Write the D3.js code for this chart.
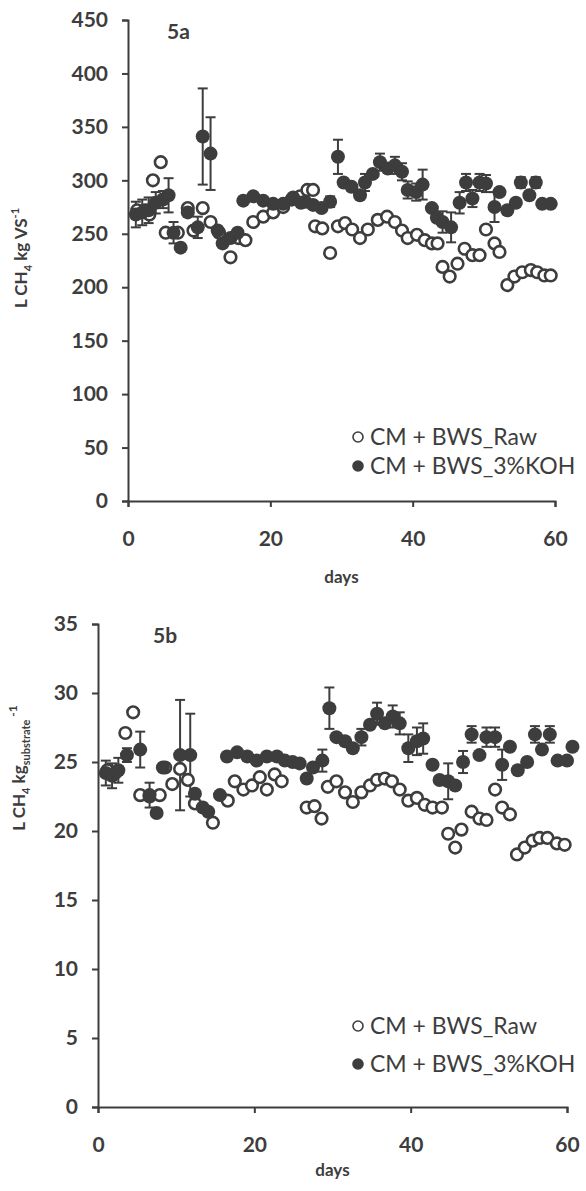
<!doctype html>
<html>
<head>
<meta charset="UTF-8">
<title>Methane yield</title>
<script src="https://d3js.org/d3.v7.min.js"></script>
<style>
  body { margin: 0; background: #fff; }
  svg text { font-family: Lato, "Open Sans", sans-serif; fill: #3d3d3d; }
</style>
</head>
<body>
<svg id="chart" width="586" height="1191"></svg>
<script>
// ---- data: 5a (L CH4 / kg VS) ----
const rawDaysA = [1.3, 2.4, 3.0, 3.5, 4.6, 5.3, 7.0, 8.4, 9.2, 10.5, 11.6, 12.8, 14.4, 15.5, 16.5, 17.6, 19.0, 20.4, 21.8, 23.0, 24.2, 25.2, 26.0, 26.3, 27.3, 28.4, 29.5, 30.5, 31.5, 32.6, 33.7, 35.1, 36.4, 37.5, 38.5, 39.3, 40.6, 41.7, 42.7, 43.5, 44.2, 45.2, 46.3, 47.3, 48.4, 49.4, 50.3, 51.5, 52.2, 53.3, 54.3, 55.4, 56.6, 57.5, 58.5, 59.4];
const rawValsA = [272, 272, 268, 300, 317, 251, 251, 274, 253, 274, 261, 251, 228, 246, 244, 261, 266, 270, 275, 282, 285, 291, 291, 257, 255, 232, 257, 260, 254, 246, 254, 263, 266, 261, 253, 246, 249, 244, 241, 241, 219, 210, 222, 236, 230, 230, 254, 241, 233, 202, 210, 214, 216, 214, 211, 211];
const kohDaysA = [1.1, 2.0, 2.9, 3.9, 4.9, 5.7, 6.4, 7.4, 8.4, 9.8, 10.5, 11.6, 12.6, 13.3, 14.4, 15.4, 16.2, 17.6, 19.0, 20.4, 21.8, 23.2, 24.3, 24.9, 26.0, 27.2, 28.4, 29.5, 30.3, 31.4, 32.6, 33.3, 34.4, 35.4, 36.5, 37.5, 38.5, 39.3, 40.5, 41.4, 42.7, 43.4, 44.2, 45.4, 46.6, 47.5, 48.4, 49.4, 50.3, 51.5, 52.2, 53.3, 54.5, 55.2, 56.4, 57.3, 58.2, 59.4];
const kohValsA = [268, 270, 272, 279, 282, 286, 251, 237, 270, 256, 341, 325, 253, 241, 246, 251, 281, 285, 281, 278, 278, 284, 279, 280, 277, 274, 280, 322, 298, 294, 286, 298, 306, 317, 311, 314, 308, 291, 289, 296, 274, 265, 261, 256, 279, 298, 283, 298, 297, 275, 289, 272, 279, 298, 286, 298, 278, 278];
const kohErrA  = [12, 12, 12, 10, 8, 16, 10, 0, 0, 10, 45, 34, 0, 0, 0, 0, 0, 0, 0, 0, 0, 0, 0, 0, 0, 0, 5, 16, 0, 0, 0, 8, 0, 8, 0, 8, 8, 8, 8, 14, 0, 0, 10, 14, 10, 8, 8, 8, 8, 14, 0, 0, 0, 5, 0, 5, 0, 0];

// ---- data: 5b (L CH4 / kg substrate) ----
const rawDaysB = [1.2, 2.2, 3.5, 4.5, 5.4, 6.6, 7.9, 8.6, 9.5, 10.5, 11.5, 12.4, 14.7, 16.6, 17.5, 18.6, 19.7, 20.7, 21.6, 22.6, 23.5, 26.7, 27.7, 28.6, 29.4, 30.5, 31.6, 32.6, 33.7, 34.8, 35.7, 36.7, 37.6, 38.6, 39.7, 40.8, 41.8, 42.8, 44.0, 44.8, 45.7, 46.5, 47.8, 48.8, 49.7, 50.8, 51.7, 52.7, 53.6, 54.6, 55.6, 56.5, 57.5, 58.7, 59.7];
const rawValsB = [24.4, 24.2, 27.1, 28.6, 22.6, 22.5, 22.6, 24.6, 23.4, 24.5, 23.7, 22.0, 20.6, 22.2, 23.6, 23.0, 23.3, 23.9, 23.0, 24.1, 23.6, 21.7, 21.8, 20.9, 23.2, 23.6, 22.8, 22.1, 22.8, 23.3, 23.7, 23.8, 23.6, 23.0, 22.2, 22.4, 21.9, 21.7, 21.7, 19.8, 18.8, 20.1, 21.4, 20.9, 20.8, 23.0, 21.7, 21.2, 18.3, 18.8, 19.3, 19.5, 19.5, 19.1, 19.0];
const kohDaysB = [1.0, 1.8, 2.6, 3.7, 5.4, 6.6, 7.5, 8.3, 10.5, 11.8, 12.4, 13.4, 14.1, 15.6, 16.5, 17.8, 19.1, 20.3, 21.6, 22.9, 23.9, 24.9, 25.8, 26.7, 27.5, 28.7, 29.6, 30.5, 31.6, 32.6, 33.7, 34.8, 35.7, 36.7, 37.7, 38.6, 39.7, 40.8, 41.6, 42.8, 43.7, 44.8, 45.7, 46.7, 47.8, 48.8, 49.7, 50.8, 51.7, 52.7, 53.7, 54.9, 55.9, 56.8, 57.8, 58.8, 60.0, 60.7];
const kohValsB = [24.2, 24.0, 24.4, 25.5, 25.9, 22.6, 21.3, 24.6, 25.5, 25.5, 22.7, 21.7, 21.4, 22.6, 25.4, 25.7, 25.4, 25.1, 25.4, 25.4, 25.1, 25.0, 24.9, 23.8, 24.6, 25.1, 28.9, 26.8, 26.5, 26.0, 26.8, 27.7, 28.5, 27.8, 28.3, 27.8, 26.0, 26.5, 26.7, 24.8, 23.7, 23.6, 23.3, 25.0, 27.0, 25.5, 26.8, 26.8, 24.8, 26.1, 24.4, 25.0, 27.0, 25.9, 27.0, 25.1, 25.1, 26.1];
const kohErrB  = [0.9, 0.9, 0.9, 0.5, 1.3, 0.9, 0, 0, 4.0, 3.0, 0, 0, 0, 0, 0, 0, 0, 0, 0, 0, 0, 0, 0, 0, 0, 0.8, 1.5, 0, 0, 0, 0.6, 0, 0.8, 0, 0.8, 0.8, 1.0, 1.0, 1.1, 0, 0, 1.3, 0, 0.8, 0.6, 0, 0.7, 0.7, 1.1, 0, 0, 0, 0.6, 0, 0.6, 0, 0, 0];

// ---- axes ----
const xTicks = [0, 20, 40, 60];
const yTicksA = [0, 50, 100, 150, 200, 250, 300, 350, 400, 450];
const yTicksB = [0, 5, 10, 15, 20, 25, 30, 35];
const legendLabels = ["CM + BWS_Raw", "CM + BWS_3%KOH"];

const ink = "#3d3d3d";
const svg = d3.select("#chart");

function zip(days, vals, errs) {
  return days.map((d, i) => ({ day: d, v: vals[i], e: errs ? errs[i] : 0 }));
}

function panel(cfg) {
  const x = d3.scaleLinear().domain([0, 60]).range([cfg.x0, cfg.x1]);
  const y = d3.scaleLinear().domain(cfg.yDomain).range([cfg.y0, cfg.y1]);
  const g = svg.append("g");

  // axes
  const ax = g.append("g")
    .attr("transform", `translate(0,${cfg.y0})`)
    .call(d3.axisBottom(x).tickValues(xTicks).tickSize(6).tickPadding(24));
  const ay = g.append("g")
    .attr("transform", `translate(${cfg.x0},0)`)
    .call(d3.axisLeft(y).tickValues(cfg.yTicks).tickSize(6).tickPadding(14));
  [ax, ay].forEach(a => {
    a.select(".domain").attr("stroke", ink).attr("stroke-width", 2);
    a.selectAll(".tick line").attr("stroke", ink).attr("stroke-width", 2);
    a.selectAll(".tick text").attr("font-size", 21).attr("font-weight", "bold")
      .style("fill", ink);
  });

  // x title
  g.append("text").attr("x", (cfg.x0 + cfg.x1) / 2).attr("y", cfg.daysY)
    .attr("text-anchor", "middle").attr("font-size", 17).attr("font-weight", "bold")
    .text("days");

  // panel tag
  g.append("text").attr("x", cfg.tagX).attr("y", cfg.y1 + 19)
    .attr("font-size", 21).attr("font-weight", "bold").text(cfg.tag);

  // y title
  const yt = g.append("text")
    .attr("transform", `translate(${cfg.labelX},${cfg.labelY}) rotate(-90)`)
    .attr("text-anchor", "middle").attr("font-size", 17).attr("font-weight", "bold");
  yt.append("tspan").text("L CH");
  yt.append("tspan").attr("font-size", 11).attr("dy", 5).text("4");
  yt.append("tspan").attr("dy", -5).text(" kg");
  if (cfg.sub) {
    yt.append("tspan").attr("font-size", 11).attr("dy", 5).text(cfg.sub);
    yt.append("tspan").attr("font-size", 12).attr("dy", -13).text(" -1");
  } else {
    yt.append("tspan").text(" VS");
    yt.append("tspan").attr("font-size", 11).attr("dy", -8).text("-1");
  }

  const raw = zip(cfg.rawDays, cfg.rawVals);
  const koh = zip(cfg.kohDays, cfg.kohVals, cfg.kohErr);

  // error bars
  const eb = g.append("g").attr("stroke", ink).attr("stroke-width", 2);
  koh.filter(d => d.e > 0).forEach(d => {
    const cx = x(d.day), lo = y(d.v - d.e), hi = y(d.v + d.e);
    eb.append("line").attr("x1", cx).attr("x2", cx).attr("y1", lo).attr("y2", hi);
    eb.append("line").attr("x1", cx - 5).attr("x2", cx + 5).attr("y1", lo).attr("y2", lo);
    eb.append("line").attr("x1", cx - 5).attr("x2", cx + 5).attr("y1", hi).attr("y2", hi);
  });

  g.append("g").selectAll("circle").data(raw).join("circle")
    .attr("cx", d => x(d.day)).attr("cy", d => y(d.v)).attr("r", 5.8)
    .attr("fill", "#fff").attr("stroke", ink).attr("stroke-width", 2.6);
  g.append("g").selectAll("circle").data(koh).join("circle")
    .attr("cx", d => x(d.day)).attr("cy", d => y(d.v)).attr("r", 7)
    .attr("fill", ink);

  // legend
  const lg = g.append("g");
  cfg.legendY.forEach((ly, i) => {
    lg.append("circle").attr("cx", 358).attr("cy", ly).attr("r", 5)
      .attr("fill", i ? ink : "#fff").attr("stroke", ink).attr("stroke-width", 1.6);
    lg.append("text").attr("x", 370).attr("y", ly).attr("dy", "0.35em")
      .attr("font-size", 23).text(legendLabels[i]);
  });
}

panel({
  x0: 128, x1: 555, y0: 501, y1: 20, yDomain: [0, 450], yTicks: yTicksA,
  rawDays: rawDaysA, rawVals: rawValsA, kohDays: kohDaysA, kohVals: kohValsA, kohErr: kohErrA,
  tag: "5a", tagX: 167, labelX: 27, labelY: 258, daysY: 583, legendY: [437, 466]
});
panel({
  x0: 98, x1: 567, y0: 1107, y1: 624, yDomain: [0, 35], yTicks: yTicksB,
  rawDays: rawDaysB, rawVals: rawValsB, kohDays: kohDaysB, kohVals: kohValsB, kohErr: kohErrB,
  tag: "5b", tagX: 153, labelX: 25, labelY: 768, sub: "substrate", daysY: 1176, legendY: [1026, 1064]
});
</script>
</body>
</html>
